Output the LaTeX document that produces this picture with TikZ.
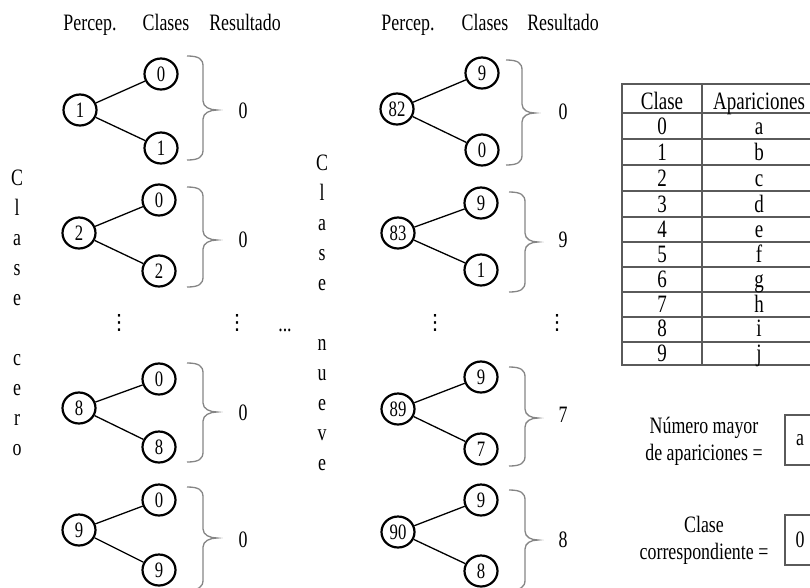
\documentclass[tikz,border=0pt]{standalone}
\usepackage{fontspec}
\setmainfont{Liberation Serif}[FakeStretch=0.76]
\newfontfamily\symfont{DejaVu Sans}
\usetikzlibrary{shapes.geometric}
\definecolor{tblgray}{HTML}{5A5A5A}
\definecolor{brcgray}{HTML}{858585}
\begin{document}
\begin{tikzpicture}[x=1pt,y=-1pt,
  txt/.style={inner sep=0pt,font=\fontsize{23.5}{27}\selectfont},
  hd/.style={txt,anchor=base},
  vd/.style={inner sep=0pt,font=\symfont\fontsize{21}{21}\selectfont},
  circ/.style={ellipse,draw,line width=2.2pt,inner sep=0pt,minimum width=33pt,minimum height=31pt,font=\fontsize{22}{22}\selectfont},
  link/.style={line width=1.3pt},
  brc/.style={draw=brcgray,line width=1.3pt},
  tbl/.style={draw=tblgray,line width=2pt},
  tt/.style={inner sep=0pt,anchor=base,font=\fontsize{25}{25}\selectfont},
]
\useasboundingbox (0,0) rectangle (810,587);

% headers
\node[hd] (h1) at (90,30) {Percep.};
\node[hd] (h2) at (166,30) {Clases};
\node[hd] (h3) at (245,30) {Resultado};
\node[hd] (h4) at (408,30) {Percep.};
\node[hd] (h5) at (485,30) {Clases};
\node[hd] (h6) at (563,30) {Resultado};

% groups
\foreach \n/\px/\cx/\py/\ya/\yb/\p/\a/\b/\bx/\bt/\bb/\tip/\w/\rx/\ry/\r in {
  l1/80/161/110/74/148/1/0/1/187/56/160/110/30/243/111/0,
  l2/79/159/233/200/271/2/0/2/187/187/287/240/30/243/240/0,
  l3/79/159/408/379/447/8/0/8/187/363/462/412/30/243/413/0,
  l4/79/159/530/500/570/9/0/9/187/487/590/538/30/243/540/0,
  r1/397/482/109/73/150/82/9/0/506/60/165/113/29/563/112/0,
  r2/398/481/233/203/270/83/9/1/509/192/292/242/29/563/240/9,
  r3/398/481/409/377/449/89/9/7/509/367/466/418/29/563/415/7,
  r4/398/481/532/500/571/90/9/8/509/490/590/540/29/563/540/8}{
  \node[circ] (\n-p) at (\px,\py) {\p};
  \node[circ] (\n-a) at (\cx,\ya) {\a};
  \node[circ] (\n-b) at (\cx,\yb) {\b};
  \draw[link] (\n-p) -- (\n-a);
  \draw[link] (\n-p) -- (\n-b);
  \coordinate (\n-bt) at (\bx,\bt);
  \coordinate (\n-bb) at (\bx,\bb);
  \draw[brc] (\n-bt) .. controls +(12,0) and +(0,-7) .. ++(16,10)
     -- (\bx+16,\tip-9) .. controls +(0,6) and +(-7,0) .. (\bx+\w,\tip)
     .. controls +(-7,0) and +(0,-6) .. (\bx+16,\tip+9)
     -- (\bx+16,\bb-10) .. controls +(0,7) and +(12,0) .. (\n-bb);
  \node[txt] (\n-r) at (\rx,\ry) {\r};
}

% dots
\node[vd] (d1) at (119,323) {⋮};
\node[vd] (d2) at (237,323) {⋮};
\node[txt] (d3) at (285,330) {...};
\node[vd] (d4) at (435,323) {⋮};
\node[vd] (d5) at (557,323) {⋮};

% vertical words
\foreach \ch [count=\i] in {C,l,a,s,e}{
  \node[hd] (lw\i) at (17,{185+30*(\i-1)}) {\ch};}
\foreach \ch [count=\i] in {c,e,r,o}{
  \node[hd] (lz\i) at (17,{365+30*(\i-1)}) {\ch};}
\foreach \ch [count=\i] in {C,l,a,s,e}{
  \node[hd] (rw\i) at (322,{170+30*(\i-1)}) {\ch};}
\foreach \ch [count=\i] in {n,u,e,v,e}{
  \node[hd] (rz\i) at (322,{350+30*(\i-1)}) {\ch};}

% table
\draw[tbl] (622,84) rectangle (840,365);
\draw[tbl] (702,84) -- (702,365);
\foreach \y in {113,139,165,191,217,242,267,292,317,342}{
  \draw[tbl] (622,\y) -- (840,\y);}
\node[tt] (th1) at (662,109) {Clase};
\node[tt] (th2) at (759,109) {Apariciones};
\foreach \k/\v/\yb in {0/a/134,1/b/160,2/c/186,3/d/212,4/e/237,5/f/262,6/g/287,7/h/312,8/i/336,9/j/361}{
  \node[tt] (tc\k) at (662,\yb) {\k};
  \node[tt] (tv\k) at (759,\yb) {\v};
}

% result boxes
\node[txt,align=center] (lab1) at (704,441) {Número mayor\\de apariciones =};
\draw[tbl] (785,415) rectangle (840,465);
\node[txt] (val1) at (800,440) {a};
\node[txt,align=center] (lab2) at (704,540) {Clase\\correspondiente =};
\draw[tbl] (785,515) rectangle (840,565);
\node[txt] (val2) at (800,540) {0};
\end{tikzpicture}
\end{document}
